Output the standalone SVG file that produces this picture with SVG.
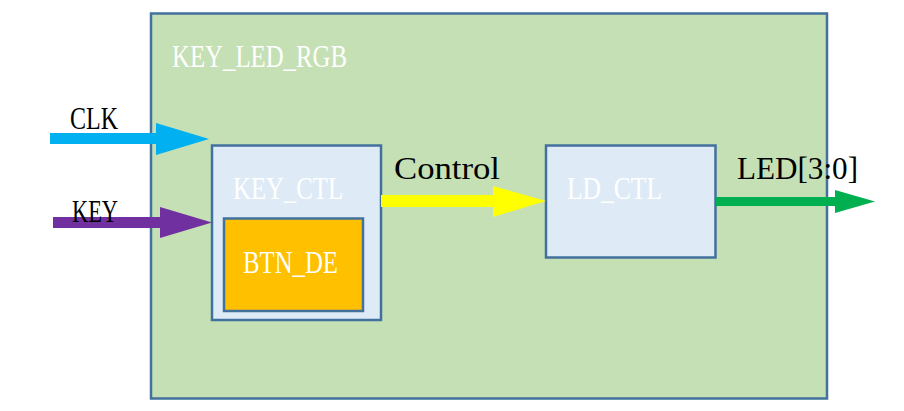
<svg xmlns="http://www.w3.org/2000/svg" width="904" height="411" viewBox="0 0 904 411">
  <style>
    .box { stroke: #41719C; stroke-width: 2.5; }
    .outer { fill: #C5E0B4; }
    .inner { fill: #DEEBF7; }
    .btn { fill: #FFC000; }
    .lbl { font-family: "Liberation Serif", "DejaVu Serif", serif; font-size: 32px; }
    .white { fill: #FFFFFF; }
    .black { fill: #000000; }
  </style>
  <rect width="904" height="411" fill="#FFFFFF"/>
  <g id="KEY_LED_RGB">
    <rect class="box outer" x="151" y="13.5" width="676" height="385"/>
    <text class="lbl white" x="172" y="67" textLength="175" lengthAdjust="spacingAndGlyphs">KEY_LED_RGB</text>
  </g>
  <g id="KEY_CTL">
    <rect class="box inner" x="212" y="145.5" width="169" height="174.5"/>
    <text class="lbl white" x="233" y="199" textLength="110" lengthAdjust="spacingAndGlyphs">KEY_CTL</text>
  </g>
  <g id="BTN_DE">
    <rect class="box btn" x="224" y="218.5" width="139" height="92.5"/>
    <text class="lbl white" x="243" y="273" textLength="95" lengthAdjust="spacingAndGlyphs">BTN_DE</text>
  </g>
  <g id="LD_CTL">
    <rect class="box inner" x="546" y="145.5" width="169.5" height="112"/>
    <text class="lbl white" x="567" y="199" textLength="95" lengthAdjust="spacingAndGlyphs">LD_CTL</text>
  </g>
  <g id="connectors">
    <g id="clk">
      <rect x="50" y="133" width="107" height="11" fill="#00B0F0"/>
      <polygon points="156,123 209,139 156,155" fill="#00B0F0"/>
      <text class="lbl black" x="70" y="129" textLength="48" lengthAdjust="spacingAndGlyphs">CLK</text>
    </g>
    <g id="key">
      <rect x="53" y="217" width="108" height="11" fill="#7030A0"/>
      <polygon points="160,207 212,222.5 160,238" fill="#7030A0"/>
      <text class="lbl black" x="72" y="222" textLength="46" lengthAdjust="spacingAndGlyphs">KEY</text>
    </g>
    <g id="control">
      <rect x="381" y="195" width="113" height="12" fill="#FFFF00"/>
      <polygon points="493,186 546,201 493,217" fill="#FFFF00"/>
      <text class="lbl black" x="394" y="179" textLength="106" lengthAdjust="spacingAndGlyphs">Control</text>
    </g>
    <g id="led">
      <rect x="716" y="197" width="120" height="9" fill="#00B050"/>
      <polygon points="835,190 875,201.5 835,213" fill="#00B050"/>
      <text class="lbl black" x="737" y="179" textLength="121" lengthAdjust="spacingAndGlyphs">LED[3:0]</text>
    </g>
  </g>
</svg>
